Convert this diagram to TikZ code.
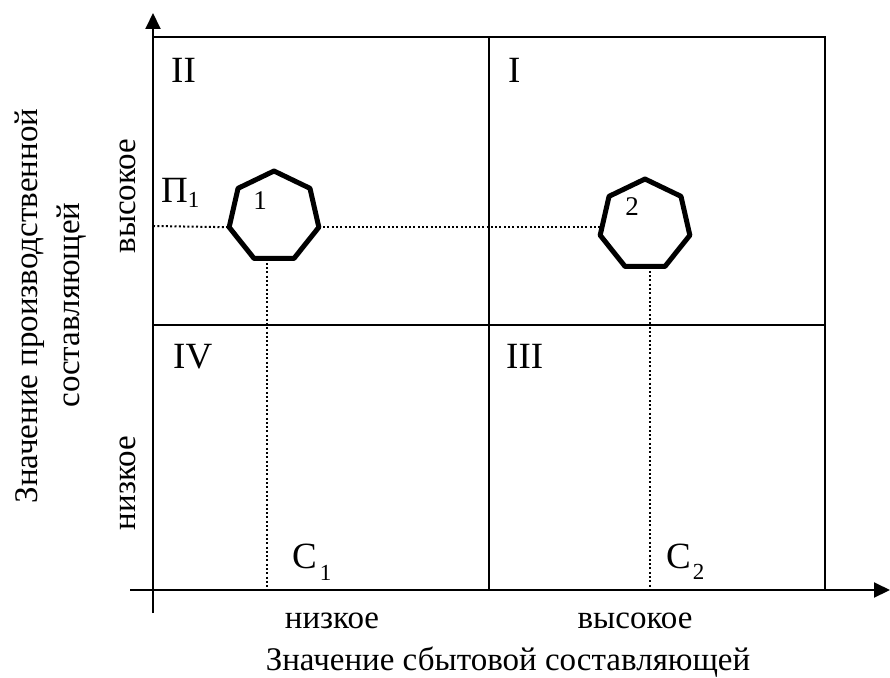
\documentclass[tikz,border=0pt]{standalone}
\usepackage{fontspec}
\setmainfont{Liberation Serif}
\usetikzlibrary{arrows.meta,shapes.geometric}
\newcommand{\lowsub}[2]{{\fontsize{23}{23}\selectfont\raisebox{-#1}{#2}}}
\begin{document}
\begin{tikzpicture}[x=1pt,y=-1pt,
  thinline/.style={line width=2pt},
  axis/.style={line width=2pt,-{Triangle[length=16pt,width=15pt]}},
  dots/.style={line width=2pt,dash pattern=on 2pt off 2.3pt},
  hept/.style={draw,regular polygon,regular polygon sides=7,minimum size=92pt,inner sep=0pt,outer sep=0pt,line width=5pt,line join=round},
  lbl/.style={font=\fontsize{33}{40}\selectfont,inner sep=0pt},
  big/.style={font=\fontsize{37}{40}\selectfont,inner sep=0pt},
  small/.style={font=\fontsize{27}{30}\selectfont,inner sep=0pt}]
\useasboundingbox (0,0) rectangle (890,677);
% axes
\coordinate (yb) at (153,613);
\coordinate (yt) at (153,13);
\coordinate (xl) at (130,590);
\coordinate (xr) at (890,590);
\draw[axis] (yb) -- (yt);
\draw[axis] (xl) -- (xr);
% box and quadrants
\coordinate (bl) at (153,590);
\coordinate (tr) at (825,37);
\coordinate (mt) at (489,37);
\coordinate (mb) at (489,590);
\coordinate (ml) at (153,325);
\coordinate (mr) at (825,325);
\draw[thinline] (bl) rectangle (tr);
\draw[thinline] (mt) -- (mb);
\draw[thinline] (ml) -- (mr);
% quadrant labels
\node[big,anchor=base west] (q2) at (171,82) {II};
\node[big,anchor=base west] (q1) at (508,82) {I};
\node[big,anchor=base west] (q4) at (173,368) {IV};
\node[big,anchor=base west] (q3) at (506,368) {III};
% heptagons
\node[hept] (h1) at (274,217) {};
\node[hept] (h2) at (645,225) {};
\node[small] (n1) at (260,201) {1};
\node[small] (n2) at (632,207) {2};
% dotted guides
\coordinate (p1) at (153,226);
\coordinate (c1) at (267,590);
\coordinate (c2) at (650,590);
\draw[dots] (p1) -- (h1.corner 3);
\draw[dots] (h1.corner 6) -- (h2.west |- h1.corner 6);
\draw[dots] (h1.south -| c1) -- (c1);
\draw[dots] (h2.south -| c2) -- (c2);
% point labels
\node[big,anchor=base west] (pi1) at (161,202) {П\lowsub{5pt}{1}};
\node[big,anchor=base west] (cc1) at (292,568) {С\kern3pt\lowsub{12pt}{1}};
\node[big,anchor=base west] (cc2) at (666,568) {С\kern2pt\lowsub{11pt}{2}};
% axis value labels
\node[lbl,anchor=base] (xlow) at (332,628) {низкое};
\node[lbl,anchor=base] (xhigh) at (635,628) {высокое};
\node[lbl,anchor=base] (xtitle) at (508,670) {Значение сбытовой составляющей};
\node[lbl,anchor=base,rotate=90] (yhigh) at (135,196) {высокое};
\node[lbl,anchor=base,rotate=90] (ylow) at (135,483) {низкое};
\node[lbl,anchor=base,rotate=90] (yt1) at (37,306) {Значение производственной};
\node[lbl,anchor=base,rotate=90] (yt2) at (79,305) {составляющей};
\end{tikzpicture}
\end{document}
